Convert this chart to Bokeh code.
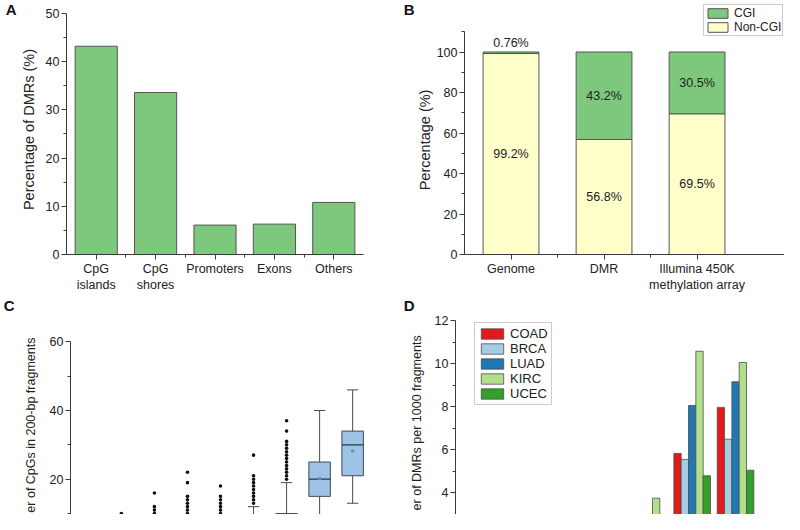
from bokeh.plotting import figure
from bokeh.models import (FixedTicker, Legend, LegendItem, LinearAxis, Range1d)
from bokeh.layouts import row
from bokeh.embed import file_html
from bokeh.resources import INLINE
from bokeh.core.properties import value

# ---------------- data ----------------
# Panel A
a_categories = ["CpG\nislands", "CpG\nshores", "Promoters", "Exons", "Others"]
a_values = [43.2, 33.6, 6.1, 6.3, 10.8]
a_yticks = [0, 10, 20, 30, 40, 50]
a_ylabel = "Percentage of DMRs (%)"

# Panel B
b_categories = ["Genome", "DMR", "Illumina 450K\nmethylation array"]
b_noncgi = [99.24, 56.8, 69.5]
b_cgi = [0.76, 43.2, 30.5]
b_noncgi_labels = ["99.2%", "56.8%", "69.5%"]
b_cgi_labels = ["0.76%", "43.2%", "30.5%"]
b_yticks = [0, 20, 40, 60, 80, 100]
b_ylabel = "Percentage (%)"

# Panel C (box plots; groups ordered left to right)
c_groups = [0, 1, 2, 3, 4, 5, 6, 7, 8]
c_lo = [0, 0, 0, 0, 0, 0, 0, 2, 13]
c_q1 = [0, 1, 1, 2, 2, 3, 4, 15, 21]
c_med = [1, 1, 2, 3, 4, 5, 7, 20, 30]
c_q3 = [1, 2, 3, 4, 5, 7, 10, 25, 34]
c_hi = [2, 3, 5, 7, 7, 12, 19, 40, 46]
c_mean = [0.8, 1.6, 2.3, 3.4, 4.0, 5.5, 7.6, 20.2, 28.2]
c_outliers = [
    [3, 4, 5],
    [4, 5, 6, 7, 8, 9, 10],
    [6, 7, 8, 9, 10, 11, 12, 16],
    [8, 9, 10, 11, 12, 13, 14, 15, 19, 22],
    [8, 9, 10, 11, 12, 13, 14, 15, 18],
    [13, 14, 15, 16, 17, 18, 19, 20, 21, 27],
    [20, 21, 22, 23, 24, 25, 26, 27, 28, 29, 30, 31, 34, 37],
    [],
    [],
]
c_yticks = [0, 20, 40, 60]
c_ylabel = "er of CpGs in 200-bp fragments"

# Panel D (grouped bars; only the groups visible in the crop)
d_groups = [4, 5, 6]
d_series = ["COAD", "BRCA", "LUAD", "KIRC", "UCEC"]
d_values = {
    "COAD": [None, 5.83, 7.97],
    "BRCA": [None, 5.55, 6.49],
    "LUAD": [2.77, 8.06, 9.16],
    "KIRC": [3.75, 10.58, 10.06],
    "UCEC": [None, 4.79, 5.05],
}
d_yticks = [0, 2, 4, 6, 8, 10, 12]
d_ylabel = "er of DMRs per 1000 fragments"

# ---------------- style ----------------
FONT = "Liberation Sans"
AXC = "#3a3a3a"
TXT = "#222222"
GREEN = "#7dc87d"
YELLOW = "#ffffcc"
BAR_LINE = "#555555"
BOX_FILL = "#9dc3e6"
BOX_LINE = "#3e4a57"
D_COLORS = {"COAD": "#e31a1c", "BRCA": "#a6cee3", "LUAD": "#1f78b4",
            "KIRC": "#b2df8a", "UCEC": "#33a02c"}
NBSP = "\u00a0"


def mids(ticks):
    return [(a + b) / 2 for a, b in zip(ticks[:-1], ticks[1:])]


def style_axis(ax):
    ax.axis_line_color = AXC
    ax.axis_line_width = 1
    ax.major_tick_line_color = AXC
    ax.minor_tick_line_color = AXC
    ax.major_tick_out = 5
    ax.major_tick_in = 0
    ax.minor_tick_out = 3
    ax.minor_tick_in = 0
    ax.major_label_text_font = FONT
    ax.major_label_text_font_size = "12.5px"
    ax.major_label_text_color = TXT
    ax.major_label_standoff = 2
    ax.axis_label_text_font = FONT
    ax.axis_label_text_font_style = "normal"
    ax.axis_label_text_color = TXT


def make_fig(w, h, xr, yr, left, right, top, bottom, xaxis=True):
    kw = {}
    if not xaxis:
        kw["x_axis_location"] = None
    p = figure(width=w, height=h, x_range=xr, y_range=yr,
               output_backend="svg", toolbar_location=None,
               title_location=None,
               min_border_left=left, min_border_right=right,
               min_border_top=top, min_border_bottom=bottom, **kw)
    p.grid.visible = False
    p.outline_line_color = None
    p.background_fill_color = "white"
    p.border_fill_color = "white"
    for ax in p.axis:
        style_axis(ax)
    return p


def side_text(p, y, text, size, standoff, bold=False, vertical=False):
    """Text left of the y axis, drawn as the single label of an extra axis."""
    ax = LinearAxis(ticker=FixedTicker(ticks=[y], minor_ticks=[]),
                    major_label_overrides={y: text})
    ax.axis_line_color = None
    ax.major_tick_line_color = None
    ax.minor_tick_line_color = None
    ax.major_tick_out = 0
    ax.major_tick_in = 0
    ax.minor_tick_out = 0
    ax.minor_tick_in = 0
    ax.major_label_text_font = FONT
    ax.major_label_text_font_size = size
    ax.major_label_text_color = "#111111" if bold else TXT
    ax.major_label_text_font_style = "bold" if bold else "normal"
    ax.major_label_standoff = standoff
    if vertical:
        ax.major_label_orientation = "vertical"
    p.add_layout(ax, "left")


def make_legend(items, location, glyph_w, glyph_h, font_size, pad):
    return Legend(items=items, location=location, orientation="vertical",
                  glyph_width=glyph_w, glyph_height=glyph_h,
                  label_height=glyph_h, label_width=20, spacing=0,
                  padding=pad, margin=0, label_standoff=4,
                  label_text_font=FONT, label_text_font_size=font_size,
                  label_text_color=TXT, border_line_color="#9a9a9a",
                  border_line_width=1, background_fill_color="white",
                  background_fill_alpha=1)


# ---------------- Panel A ----------------
a_x = list(range(len(a_categories)))
pa = make_fig(400, 295, Range1d(-0.5, len(a_categories) - 0.5),
              Range1d(0, 51.86), 66, 37, 4, 40)
pa.vbar(x=a_x, bottom=0, top=a_values, width=0.71,
        fill_color=GREEN, line_color=BAR_LINE, line_width=1)
pa.xaxis.ticker = FixedTicker(ticks=a_x, minor_ticks=mids(a_x))
pa.xaxis.major_label_overrides = {i: c for i, c in zip(a_x, a_categories)}
pa.yaxis.ticker = FixedTicker(ticks=a_yticks, minor_ticks=mids(a_yticks))
pa.yaxis.bounds = (a_yticks[0], a_yticks[-1])
side_text(pa, 25.93, a_ylabel, "14.5px", 6, vertical=True)
side_text(pa, 50.93, "A", "15px", 1, bold=True)

# ---------------- Panel B ----------------
b_x = [i + 1 for i in range(len(b_categories))]
pb = make_fig(384, 295, Range1d(0.5, 3.94), Range1d(0, 123.46), 64, 0, 4, 40)
b_top = [n + c for n, c in zip(b_noncgi, b_cgi)]
r_non = pb.vbar(x=b_x, bottom=0, top=b_noncgi, width=0.6,
                fill_color=YELLOW, line_color=BAR_LINE, line_width=1)
r_cgi = pb.vbar(x=b_x, bottom=b_noncgi, top=b_top, width=0.6,
                fill_color=GREEN, line_color=BAR_LINE, line_width=1)
non_y = [n / 2 for n in b_noncgi]
cgi_y = [n + c / 2 if c >= 5 else n + c + 4.3 for n, c in zip(b_noncgi, b_cgi)]
pb.text(x=b_x + b_x, y=non_y + cgi_y, text=b_noncgi_labels + b_cgi_labels,
        text_align="center", text_baseline="middle",
        text_font=value(FONT), text_font_size="12.5px", text_color=TXT)
pb.xaxis.ticker = FixedTicker(ticks=b_x, minor_ticks=mids(b_x))
pb.xaxis.major_label_overrides = {i: c for i, c in zip(b_x, b_categories)}
pb.yaxis.ticker = FixedTicker(ticks=b_yticks,
                              minor_ticks=mids(b_yticks + [120]))
pb.yaxis.bounds = (0, 110)
side_text(pb, 56.57, b_ylabel, "14.5px", 0, vertical=True)
side_text(pb, 121.25, "B", "15px", 0, bold=True)
leg_b = make_legend([LegendItem(label="CGI", renderers=[r_cgi]),
                     LegendItem(label="Non-CGI", renderers=[r_non])],
                    (239, 218), 25, 12, "12px", 1)
pb.add_layout(leg_b)

# ---------------- Panel C ----------------
pc = make_fig(400, 219, Range1d(-0.54, 8.51), Range1d(9.72, 72.9),
              63, 31, 2, 0, xaxis=False)
BOX_W = 0.65
CAP_W = 0.34
pc.segment(x0=c_groups, y0=c_q3, x1=c_groups, y1=c_hi,
           line_color="#4a4a4a", line_width=1)
pc.segment(x0=c_groups, y0=c_q1, x1=c_groups, y1=c_lo,
           line_color="#4a4a4a", line_width=1)
pc.segment(x0=[g - CAP_W / 2 for g in c_groups], y0=c_hi,
           x1=[g + CAP_W / 2 for g in c_groups], y1=c_hi,
           line_color="#4a4a4a", line_width=1)
pc.segment(x0=[g - CAP_W / 2 for g in c_groups], y0=c_lo,
           x1=[g + CAP_W / 2 for g in c_groups], y1=c_lo,
           line_color="#4a4a4a", line_width=1)
pc.vbar(x=c_groups, bottom=c_q1, top=c_q3, width=BOX_W,
        fill_color=BOX_FILL, line_color=BOX_LINE, line_width=1)
pc.segment(x0=[g - BOX_W / 2 for g in c_groups], y0=c_med,
           x1=[g + BOX_W / 2 for g in c_groups], y1=c_med,
           line_color="#2b3846", line_width=1.2)
pc.scatter(x=c_groups, y=c_mean, marker="square", size=3,
           fill_color="#6f8fae", line_color=None)
ox, oy = [], []
for g, outs in zip(c_groups, c_outliers):
    for v in outs:
        ox.append(g)
        oy.append(v)
pc.scatter(x=ox, y=oy, marker="circle", size=3.6,
           fill_color="#111111", line_color=None)
pc.yaxis.ticker = FixedTicker(ticks=c_yticks, minor_ticks=mids(c_yticks))
pc.yaxis.bounds = (c_yticks[0], c_yticks[-1])
# axis title; trailing no-break spaces shift the visible words down the frame
pc.yaxis.axis_label = c_ylabel + NBSP * 11
pc.yaxis.axis_label_text_font_size = "12.5px"
pc.yaxis.axis_label_standoff = 9
side_text(pc, 70.57, "C", "15px", 6, bold=True)

# ---------------- Panel D ----------------
pdd = make_fig(384, 219, Range1d(-0.46, 7.13), Range1d(2.99, 13.08),
               55, 0, 2, 0, xaxis=False)
BAR_W = 0.169
items = []
for i, s in enumerate(d_series):
    xs, tops = [], []
    for g, v in zip(d_groups, d_values[s]):
        if v is not None:
            xs.append(g + (i - 2) * BAR_W)
            tops.append(v)
    r = pdd.vbar(x=xs, bottom=0, top=tops, width=BAR_W,
                 fill_color=D_COLORS[s], line_color="#4d4d4d", line_width=0.8)
    items.append(LegendItem(label=s, renderers=[r]))
pdd.yaxis.ticker = FixedTicker(ticks=d_yticks, minor_ticks=mids(d_yticks))
pdd.yaxis.bounds = (d_yticks[0], d_yticks[-1])
side_text(pdd, 7.25, d_ylabel, "12.5px", 7, vertical=True)
side_text(pdd, 12.69, "D", "15px", -7, bold=True)
leg_d = make_legend(items, (19, 109), 28, 13, "13px", 3)
pdd.add_layout(leg_d)

top_row = row(pa, pb)
bottom_row = row(pc, pdd)
open("out.html", "w").write(file_html([top_row, bottom_row], INLINE))
